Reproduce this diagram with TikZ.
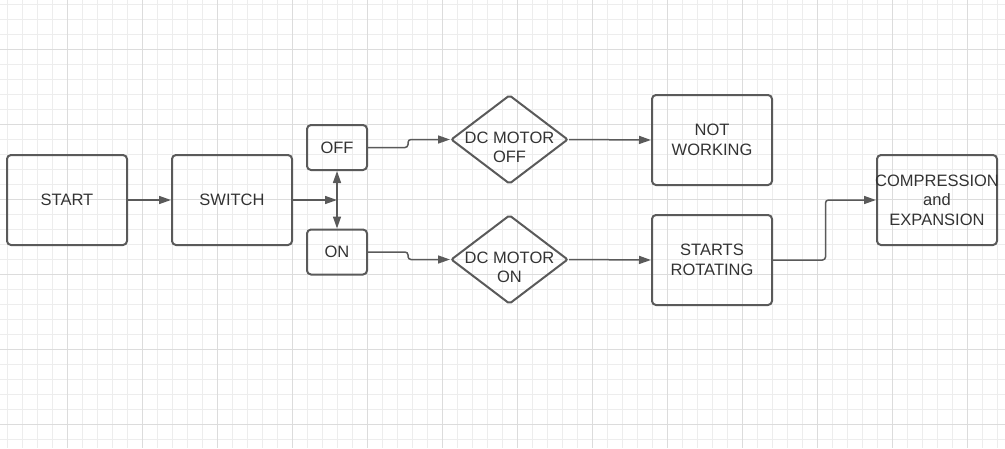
\documentclass[tikz,border=0pt]{standalone}
\usepackage{fontspec}
\setmainfont{Liberation Sans}
\usetikzlibrary{arrows.meta, shapes.geometric}
\definecolor{linegray}{HTML}{5A5A5A}
\definecolor{textgray}{HTML}{333333}
\definecolor{minorgray}{HTML}{EDEDED}
\definecolor{majorgray}{HTML}{DCDCDC}
\tikzset{
  every node/.append style = {text=textgray, font=\fontsize{16.5}{19.5}\selectfont, align=center},
  box/.style = {draw=linegray, line width=2pt, rounded corners=4pt, inner sep=0pt,
    minimum width=120pt, minimum height=90pt},
  smallbox/.style = {box, minimum width=60pt, minimum height=45pt},
  decision/.style = {draw=linegray, line width=2pt, diamond, rounded corners=2pt, inner sep=0pt,
    minimum width=117pt, minimum height=89pt},
  link/.style = {draw=linegray, line width=1.5pt, -{Triangle[length=12pt, width=8pt]}},
  step link/.style = {link, rounded corners=3pt}
}

\begin{document}
\begin{tikzpicture}[x=1pt, y=-1pt]
\useasboundingbox (0,0) rectangle (1005,448);
% grid paper
\foreach \x in {7.5,22.5,...,1005} \draw[minorgray, line width=0.8pt] (\x,0) -- (\x,448);
\foreach \y in {4.5,19.5,...,448} \draw[minorgray, line width=0.8pt] (0,\y) -- (1005,\y);
\foreach \x in {67.5,142.5,...,1005} \draw[majorgray, line width=0.8pt] (\x,0) -- (\x,448);
\foreach \y in {49.5,124.5,...,448} \draw[majorgray, line width=0.8pt] (0,\y) -- (1005,\y);

% nodes
\node[box] (start) at (67,200) {START};
\node[box] (switch) at (232,200) {SWITCH};
\node[smallbox] (off) at (337,147.5) {OFF};
\node[smallbox] (on) at (337,252) {ON};
\node[decision, label={[yshift=-8pt]center:DC MOTOR\\OFF}] (dcoff) at (509.5,139.5) {};
\node[decision, label={[yshift=-8pt]center:DC MOTOR\\ON}] (dcon) at (509.5,259.5) {};
\node[box] (notwork) at (712,140) {NOT\\WORKING};
\node[box] (rotating) at (712,260) {STARTS\\ROTATING};
\node[box, inner xsep=-3pt] (compress) at (937,200) {COMPRESSION\\and\\EXPANSION};
\coordinate (fork) at (337,200);

% connectors
\draw[link] (start) -- (switch);
\draw[link] (switch) -- (fork);
\draw[link, {Triangle[length=12pt, width=8pt]}-{Triangle[length=12pt, width=8pt]}] (off) -- (on);
\draw[step link] (off.east) -- ++(40,0) |- (dcoff.west);
\draw[step link] (on.east) -- ++(40,0) |- (dcon.west);
\draw[link] (dcoff.east) -- (notwork.west);
\draw[link] (dcon.east) -- (rotating.west);
\draw[step link] (rotating.east) -- ++(52.5,0) |- (compress.west);
\end{tikzpicture}
\end{document}
